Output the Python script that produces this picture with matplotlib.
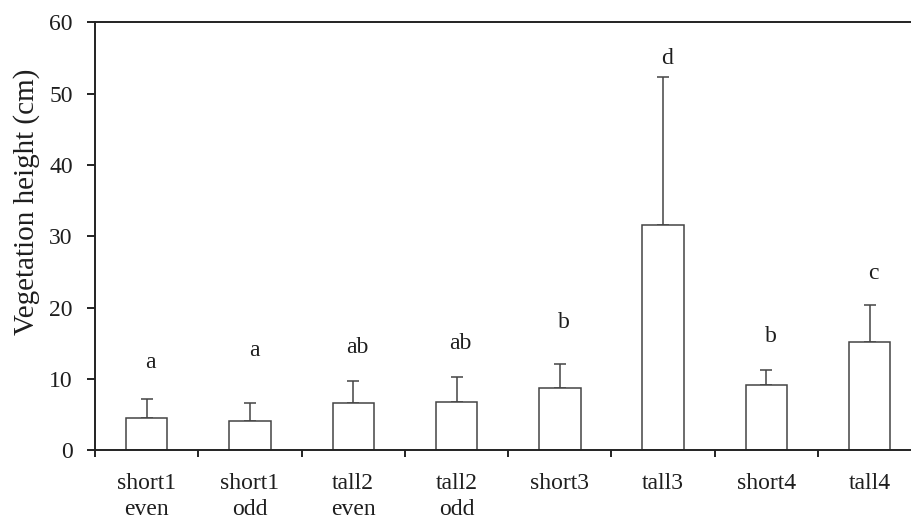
import numpy as np
import matplotlib
matplotlib.use('Agg')
import matplotlib.pyplot as plt

# Data
groups = ['short1\neven', 'short1\nodd', 'tall2\neven', 'tall2\nodd',
          'short3', 'tall3', 'short4', 'tall4']
heights = [4.5, 4.1, 6.6, 6.8, 8.8, 31.6, 9.2, 15.2]
err_top = [7.2, 6.6, 9.8, 10.3, 12.1, 52.4, 11.3, 20.4]
letters = ['a', 'a', 'ab', 'ab', 'b', 'd', 'b', 'c']
letter_y = [11.5, 13.2, 13.6, 14.25, 17.1, 54.2, 15.25, 24.05]

plt.rcParams['font.family'] = ['Liberation Serif', 'DejaVu Serif']
text_col = '#1e1e1e'
line_col = '#444444'

fig = plt.figure(figsize=(9.11, 5.20), dpi=100)
ax = fig.add_axes([0.1043, 0.1337, 0.9071, 0.8234])

x = np.arange(len(groups))
yerr = [np.zeros(len(heights)), np.array(err_top) - np.array(heights)]

ax.bar(x, heights, width=0.4, color='white', edgecolor=line_col,
       linewidth=1.1, zorder=2)
ax.errorbar(x, heights, yerr=yerr, fmt='none', ecolor=line_col,
            elinewidth=1.1, capsize=4.6, capthick=1.1, zorder=1)

for xi, lab, ly in zip(x, letters, letter_y):
    ax.text(xi + 0.04, ly, lab, ha='center', va='baseline',
            fontsize=17, color=text_col)

ax.set_xlim(-0.5, len(groups) - 0.5)
ax.set_ylim(0, 60)
ax.set_yticks(range(0, 61, 10))

# category labels centred, ticks drawn at group boundaries
ax.set_xticks(x)
ax.set_xticklabels(groups, fontsize=17, color=text_col, linespacing=1.36)
ax.tick_params(axis='x', which='major', length=0, pad=16)
ax.set_xticks(np.arange(len(groups) + 1) - 0.5, minor=True)
ax.tick_params(axis='x', which='minor', length=5, width=1.4,
               color='#222222', direction='out')

ax.tick_params(axis='y', length=6, width=1.4, color='#222222',
               direction='out', pad=10, labelsize=17, labelcolor=text_col)

ax.set_ylabel('Vegetation height (cm)', fontsize=21, color=text_col)
ax.yaxis.set_label_coords(-0.066, 0.58)

for side in ['left', 'bottom', 'top']:
    ax.spines[side].set_linewidth(1.4)
    ax.spines[side].set_color('#222222')
ax.spines['right'].set_visible(False)

fig.savefig('out.png', dpi=100)
